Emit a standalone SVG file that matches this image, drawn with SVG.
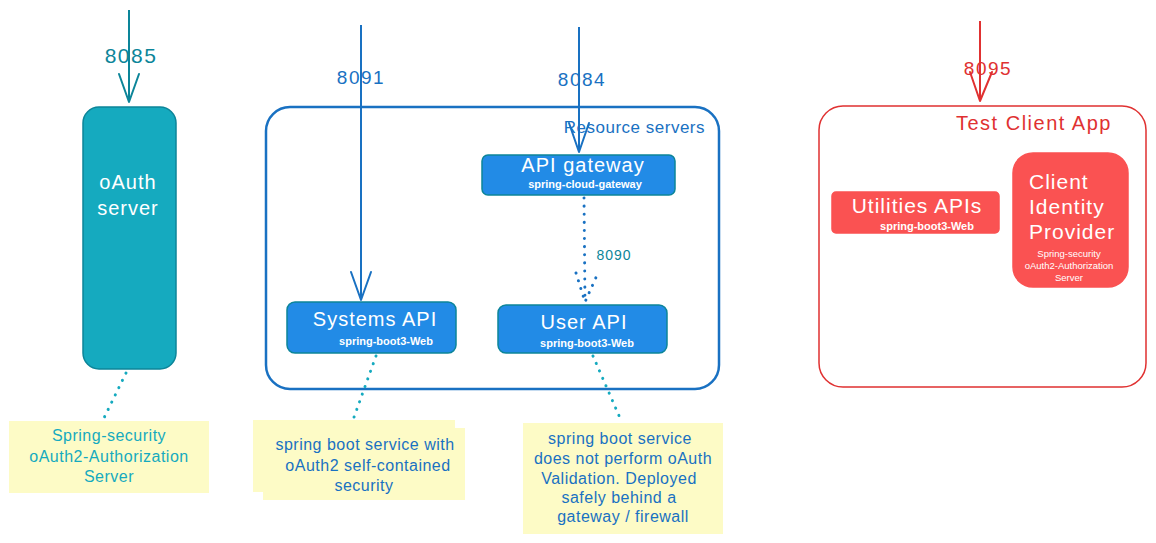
<svg xmlns="http://www.w3.org/2000/svg" width="1156" height="543" viewBox="0 0 1156 543">
<style>
text{font-family:"Liberation Sans","DejaVu Sans",sans-serif;}
.w{fill:#fff;}
.c{text-anchor:middle;}
.teal{fill:#0c8599;}
.blue{fill:#1971c2;}
.red{fill:#e03131;}
.note{fill:#fdfbc6;}
.nt{font-size:16px;letter-spacing:0.5px;}
.big{font-size:20px;letter-spacing:1px;}
.port{letter-spacing:1.5px;}
.box{fill:#228be6;stroke:#0c8599;stroke-width:1.5;}
.dot{fill:none;stroke-width:3;stroke-linecap:round;stroke-dasharray:0.1 8;}
.ln{fill:none;stroke-width:2;}
.ah{fill:none;stroke-width:2;stroke-linecap:round;stroke-linejoin:round;}
</style>
<rect width="1156" height="543" fill="#fff"/>

<g id="oauth-server">
<rect x="83" y="107" width="93" height="262" rx="16" fill="#15aabf" stroke="#0c8599" stroke-width="1.5"/>
<text class="w c big" x="128" y="189">oAuth</text>
<text class="w c big" x="128" y="215">server</text>
</g>

<g id="note-oauth">
<rect class="note" x="9" y="421" width="200" height="72"/>
<text class="c nt" x="109" y="441" fill="#15aabf">Spring-security</text>
<text class="c nt" x="109" y="462" fill="#15aabf">oAuth2-Authorization</text>
<text class="c nt" x="109" y="482" fill="#15aabf">Server</text>
</g>

<g id="resource-servers">
<rect x="266" y="107" width="453" height="282" rx="24" fill="none" stroke="#1971c2" stroke-width="2.5"/>
<text class="blue" x="705" y="133" font-size="17" text-anchor="end" letter-spacing="0.5">Resource servers</text>
</g>

<g id="api-gateway">
<rect class="box" x="482" y="155" width="193" height="40" rx="6"/>
<text class="w c big" x="583" y="172">API gateway</text>
<text class="w c" x="585" y="188" font-size="11" font-weight="bold">spring-cloud-gateway</text>
</g>

<g id="systems-api">
<rect class="box" x="287" y="302" width="169" height="51" rx="8"/>
<text class="w c big" x="375" y="326">Systems API</text>
<text class="w c" x="386" y="345" font-size="11" font-weight="bold">spring-boot3-Web</text>
</g>

<g id="user-api">
<rect class="box" x="498" y="305" width="169" height="48" rx="8"/>
<text class="w c big" x="584" y="329">User API</text>
<text class="w c" x="587" y="347" font-size="11" font-weight="bold">spring-boot3-Web</text>
</g>

<g id="note-systems">
<rect class="note" x="253" y="420" width="202" height="72"/>
<rect class="note" x="263" y="428" width="202" height="72"/>
<text class="blue c nt" x="365" y="450">spring boot service with</text>
<text class="blue c nt" x="368" y="471">oAuth2 self-contained</text>
<text class="blue c nt" x="364" y="491">security</text>
</g>

<g id="note-user">
<rect class="note" x="523" y="423" width="200" height="111"/>
<text class="blue c nt" x="620" y="444">spring boot service</text>
<text class="blue c nt" x="623" y="464">does not perform oAuth</text>
<text class="blue c nt" x="619" y="484">Validation. Deployed</text>
<text class="blue c nt" x="619" y="503">safely behind a</text>
<text class="blue c nt" x="623" y="522">gateway / firewall</text>
</g>

<g id="test-client-app">
<rect x="819" y="106" width="327" height="281" rx="24" fill="none" stroke="#e03131" stroke-width="1.5"/>
<text class="red" x="956" y="130" font-size="20" letter-spacing="1.5">Test Client App</text>
</g>

<g id="utilities-apis">
<rect x="832" y="192" width="167" height="41" rx="4" fill="#fa5252" stroke="#fa5252" stroke-width="1.5"/>
<text class="w c" x="917" y="213" font-size="21" letter-spacing="1">Utilities APIs</text>
<text class="w c" x="927" y="230" font-size="11" font-weight="bold">spring-boot3-Web</text>
</g>

<g id="client-identity-provider">
<rect x="1013" y="153" width="115" height="134" rx="20" fill="#fa5252" stroke="#fa5252" stroke-width="1.5"/>
<text class="w" x="1029" y="189" font-size="21" letter-spacing="1">Client</text>
<text class="w" x="1029" y="214" font-size="21" letter-spacing="1">Identity</text>
<text class="w" x="1029" y="239" font-size="21" letter-spacing="1">Provider</text>
<text class="w c" x="1069" y="257" font-size="9.5">Spring-security</text>
<text class="w c" x="1069" y="269" font-size="9.5">oAuth2-Authorization</text>
<text class="w c" x="1069" y="281" font-size="9.5">Server</text>
</g>

<g id="connectors">
<line class="ln" x1="129" y1="10" x2="129" y2="102" stroke="#0c8599"/>
<path class="ah" d="M119,74 L129,102 L139,74" stroke="#0c8599"/>
<text class="teal c port" x="131" y="63" font-size="21">8085</text>

<line class="ln" x1="361" y1="25" x2="361" y2="300" stroke="#1971c2"/>
<path class="ah" d="M351,272 L361,300 L371,272" stroke="#1971c2"/>
<text class="blue c port" x="361" y="84" font-size="19">8091</text>

<line class="ln" x1="579" y1="27" x2="579" y2="152" stroke="#1971c2"/>
<path class="ah" d="M569,123 L579,152 L589,123" stroke="#1971c2"/>
<text class="blue c port" x="582" y="86" font-size="19">8084</text>

<line class="ln" x1="980" y1="21" x2="980" y2="101" stroke="#e03131" stroke-width="1.5"/>
<path class="ah" d="M970,72 L980,101 L992,72" stroke="#e03131" stroke-width="1.5"/>
<text class="red c port" x="988" y="75" font-size="19">8095</text>

<path class="dot" d="M584,198 L585,302" stroke="#1971c2"/>
<path class="dot" d="M576,273 L585,302 L598,273" stroke="#1971c2"/>
<text class="teal c" x="614" y="260" font-size="14" letter-spacing="1">8090</text>

<path class="dot" d="M126,373 L103,420" stroke="#15aabf"/>
<path class="dot" d="M376,356 L353,420" stroke="#15aabf"/>
<path class="dot" d="M593,356 L620,418" stroke="#15aabf"/>
</g>
</svg>
